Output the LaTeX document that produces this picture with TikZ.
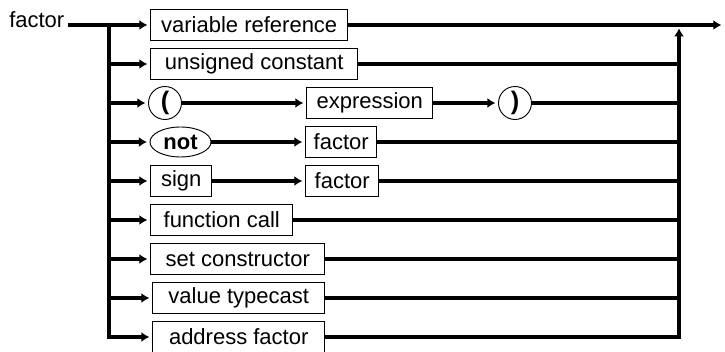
\documentclass[tikz,border=0pt]{standalone}
\usepackage{fontspec}
\setmainfont{Liberation Sans}
\usetikzlibrary{arrows.meta,shapes.geometric}
\begin{document}
\begin{tikzpicture}[x=0.75pt,y=-0.75pt,
  every node/.style={font=\fontsize{16.5}{18}\selectfont},
  term/.style={draw, line width=1.1pt, minimum height=23.25pt, inner sep=0pt, anchor=west},
  sym/.style={draw, line width=0.7pt, inner sep=0pt, font=\fontsize{16.5}{18}\selectfont\bfseries},
  paren/.style={font=\fontsize{19}{20}\selectfont\bfseries},
  conn/.style={line width=2.5pt, line join=miter},
  arr/.style={-{Latex[length=6pt,width=7.5pt]}, shorten >=2pt},
]
\useasboundingbox (0,0) rectangle (725,352);

% start label and the bus coordinates
\node[anchor=base west, inner sep=0pt] (lbl) at (9,28) {factor};
\coordinate (start) at (68,25);
\coordinate (bus) at (109,25);
\coordinate (rbus) at (679,25);
\coordinate (exit) at (724,25);

% alternatives
\node[term, minimum width=147.75pt] (b1) at (150,25) {variable reference};
\node[term, minimum width=155.25pt] (b2) at (150,64) {unsigned constant};
\node[sym, paren, circle, minimum size=24.75pt] (lp) at (165,103) {(};
\node[term, minimum width=94.5pt] (ex) at (306,103) {expression};
\node[sym, paren, circle, minimum size=24.75pt] (rp) at (515,103) {)};
\node[sym, ellipse, minimum width=45.75pt, minimum height=22.5pt] (nt) at (180.5,142) {not};
\node[term, minimum width=53.25pt] (f1) at (305,142) {factor};
\node[term, minimum width=45.75pt] (sg) at (150,181) {sign};
\node[term, minimum width=54.75pt] (f2) at (305,181) {factor};
\node[term, minimum width=106.5pt] (fc) at (150,220) {function call};
\node[term, minimum width=130.5pt] (sc) at (150,259) {set constructor};
\node[term, minimum width=129pt] (vt) at (152,298) {value typecast};
\node[term, minimum width=129pt] (af) at (152,337) {address factor};

% entry side
\draw[conn, arr] (start) -- (b1.west);
\draw[conn, arr] (bus) -- (bus |- af.west) -- (af.west);
\draw[conn, arr] (bus |- b2.west) -- (b2.west);
\draw[conn, arr] (bus |- lp.west) -- (lp.west);
\draw[conn, arr] (bus |- nt.west) -- (nt.west);
\draw[conn, arr] (bus |- sg.west) -- (sg.west);
\draw[conn, arr] (bus |- fc.west) -- (fc.west);
\draw[conn, arr] (bus |- sc.west) -- (sc.west);
\draw[conn, arr] (bus |- vt.west) -- (vt.west);

% inner sequences
\draw[conn, arr] (lp.east) -- (ex.west);
\draw[conn, arr] (ex.east) -- (rp.west);
\draw[conn, arr] (nt.east) -- (f1.west);
\draw[conn, arr] (sg.east) -- (f2.west);

% exit side
\draw[conn, arr] (b1.east) -- (exit);
\draw[conn, arr, shorten >=2.5pt] (af.east) -- (rbus |- af.east) -- (rbus);
\draw[conn] (b2.east) -- (rbus |- b2.east);
\draw[conn] (rp.east) -- (rbus |- rp.east);
\draw[conn] (f1.east) -- (rbus |- f1.east);
\draw[conn] (f2.east) -- (rbus |- f2.east);
\draw[conn] (fc.east) -- (rbus |- fc.east);
\draw[conn] (sc.east) -- (rbus |- sc.east);
\draw[conn] (vt.east) -- (rbus |- vt.east);
\end{tikzpicture}
\end{document}
